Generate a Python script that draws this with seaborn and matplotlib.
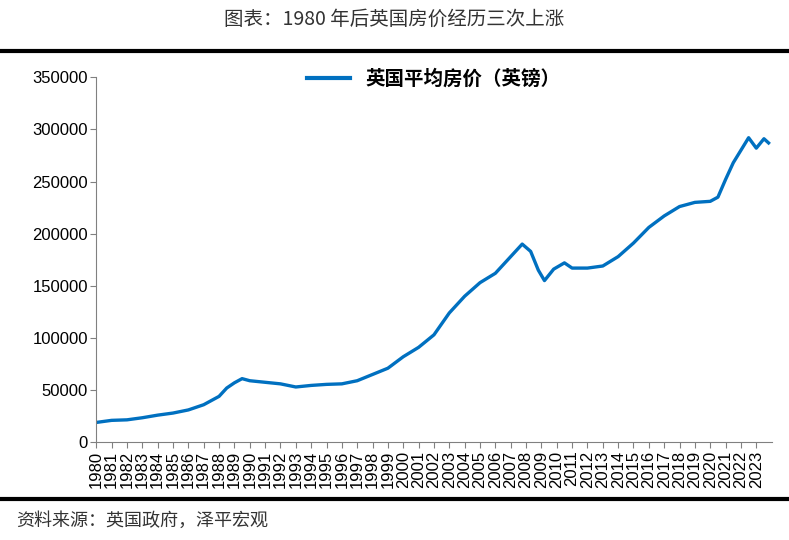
import matplotlib
matplotlib.use("Agg")
import matplotlib.pyplot as plt
import seaborn as sns
import pandas as pd
from matplotlib.lines import Line2D

years = [1980, 1981, 1982, 1983, 1984, 1985, 1986, 1987, 1988, 1988.5, 1989, 1989.5, 1990, 1991, 1992,
         1993, 1994, 1995, 1996, 1997, 1998, 1999, 2000, 2001, 2002, 2003, 2004, 2005, 2006, 2007,
         2007.75, 2008.3, 2008.8, 2009.2, 2009.8, 2010.5, 2011, 2012, 2013, 2014, 2015, 2016, 2017,
         2018, 2019, 2020, 2020.5, 2021, 2021.5, 2022, 2022.5, 2023, 2023.5, 2023.8]
prices = [19000, 21000, 21500, 23500, 26000, 28000, 31000, 36000, 44000, 52000, 57000, 61000, 59000,
          57500, 56000, 53000, 54500, 55500, 56000, 59000, 65000, 71000, 82000, 91000, 103000, 124000,
          140000, 153000, 162000, 178000, 190000, 183000, 165000, 155000, 166000, 172000, 167000,
          167000, 169000, 178000, 191000, 206000, 217000, 226000, 230000, 231000, 235000, 252000,
          268000, 280000, 292000, 282000, 291000, 287000]
tick_years = list(range(1980, 2024))

plt.rcParams["font.family"] = "Noto Sans CJK SC"
df = pd.DataFrame({"year": years, "price": prices})
fig = plt.figure(figsize=(7.89, 5.4), dpi=100)
ax = fig.add_axes([0.122, 0.181, 0.856, 0.676])
sns.lineplot(data=df, x="year", y="price", ax=ax, color="#0070C0", linewidth=2.4)
ax.set_xlim(1980, 2024)
ax.set_ylim(0, 350000)
ax.set_xticks(tick_years)
ax.set_xticklabels([str(y) for y in tick_years], rotation=90, fontsize=12, fontfamily="Liberation Sans")
ax.set_yticks(range(0, 350001, 50000))
ax.set_yticklabels([str(v) for v in range(0, 350001, 50000)], fontsize=12, fontfamily="Liberation Sans")
ax.set_xlabel(""); ax.set_ylabel("")
for s in ["top", "right"]:
    ax.spines[s].set_visible(False)
ax.spines["left"].set_color("#808080")
ax.spines["bottom"].set_color("#808080")
ax.tick_params(colors="#808080", labelcolor="black", length=4, direction="out", pad=2)
ax.legend(handles=[Line2D([], [], color="#0070C0", lw=3)], labels=["英国平均房价（英镑）"],
          loc="upper center", bbox_to_anchor=(0.5, 1.07), frameon=False,
          prop={"family": "Noto Sans CJK SC", "weight": "bold", "size": 14}, handlelength=2.2)
fig.text(0.5, 0.965, "图表：1980 年后英国房价经历三次上涨", ha="center", va="center", fontsize=14, color="#333333")
fig.add_artist(Line2D([0, 1], [0.905, 0.905], color="black", lw=3))
fig.add_artist(Line2D([0, 1], [0.076, 0.076], color="black", lw=3))
fig.text(0.02, 0.035, "资料来源：英国政府，泽平宏观", ha="left", va="center", fontsize=13, style="italic", color="#333333")
fig.savefig("out.png", dpi=100)
